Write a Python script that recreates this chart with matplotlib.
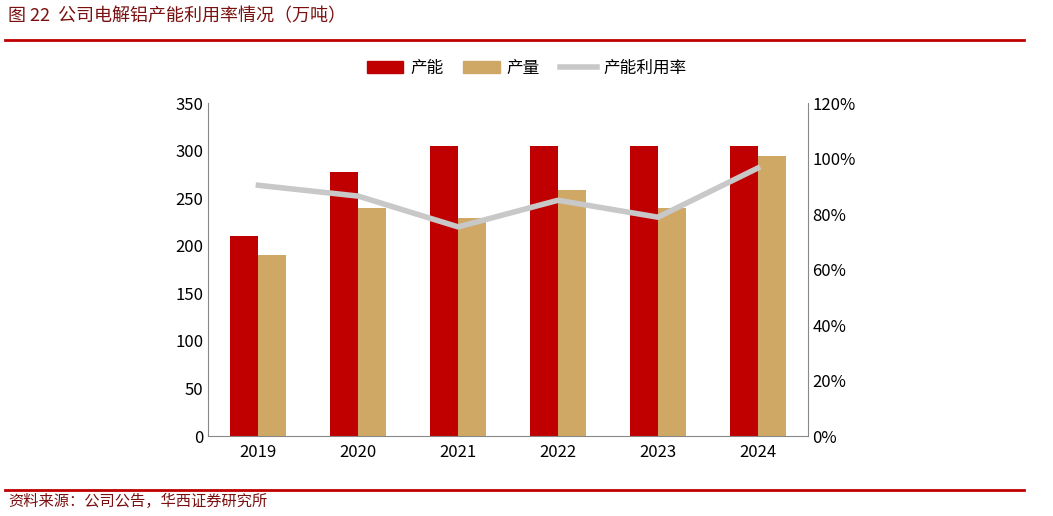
import matplotlib.pyplot as plt
import numpy as np
from matplotlib.lines import Line2D
from matplotlib.ticker import FuncFormatter

plt.rcParams['font.family'] = ['Noto Sans CJK SC', 'DejaVu Sans']

years = ['2019', '2020', '2021', '2022', '2023', '2024']
capacity = [210, 278, 305, 305, 305, 305]
output = [190, 240, 229, 259, 240, 294]
util_rate = [90.4, 86.5, 75.4, 85.0, 78.9, 96.6]

fig = plt.figure(figsize=(10.53, 5.16), dpi=100)
ax = fig.add_axes([0.198, 0.155, 0.569, 0.645])
x = np.arange(len(years))
w = 0.28
ax.bar(x - w / 2, capacity, w, color='#C00000', label='产能')
ax.bar(x + w / 2, output, w, color='#D0A866', label='产量')
ax.set_ylim(0, 350)
ax.set_yticks(range(0, 351, 50))
ax.set_xticks(x)
ax.set_xticklabels(years)
ax.set_xlim(-0.5, len(years) - 0.5)
for s in ['top', 'right']:
    ax.spines[s].set_visible(False)
ax.spines['left'].set_visible(False)
ax.spines['bottom'].set_color('#888888')
ax.tick_params(axis='y', length=0, labelsize=12)
ax.tick_params(axis='x', length=0, labelsize=12, pad=6)
ax.spines['left'].set_visible(True)
ax.spines['left'].set_color('#888888')

ax2 = ax.twinx()
ax2.plot(x, util_rate, color='#C8C8C8', lw=4)
ax2.set_ylim(0, 120)
ax2.set_yticks(range(0, 121, 20))
ax2.yaxis.set_major_formatter(FuncFormatter(lambda v, p: f'{v:.0f}%'))
ax2.tick_params(axis='y', length=0, labelsize=12)
for s in ['top', 'left', 'bottom']:
    ax2.spines[s].set_visible(False)
ax2.spines['right'].set_color('#888888')

handles = [plt.Rectangle((0, 0), 1, 1, color='#C00000'),
           plt.Rectangle((0, 0), 1, 1, color='#D0A866'),
           Line2D([], [], color='#C8C8C8', lw=4)]
fig.legend(handles, ['产能', '产量', '产能利用率'], loc='center', bbox_to_anchor=(0.5, 0.868),
           ncol=3, frameon=False, fontsize=12, handlelength=2.2, handletextpad=0.4, columnspacing=1.2)

fig.text(0.008, 0.968, '图 22  公司电解铝产能利用率情况（万吨）', fontsize=13, color='#7A1010', va='center')
fig.add_artist(Line2D([0.005, 0.972], [0.922, 0.922], color='#C00000', lw=2))
fig.add_artist(Line2D([0.005, 0.972], [0.050, 0.050], color='#C00000', lw=2))
fig.text(0.008, 0.028, '资料来源：公司公告，华西证券研究所', fontsize=11, color='#7A1010', va='center')

fig.savefig('out.png', dpi=100)
